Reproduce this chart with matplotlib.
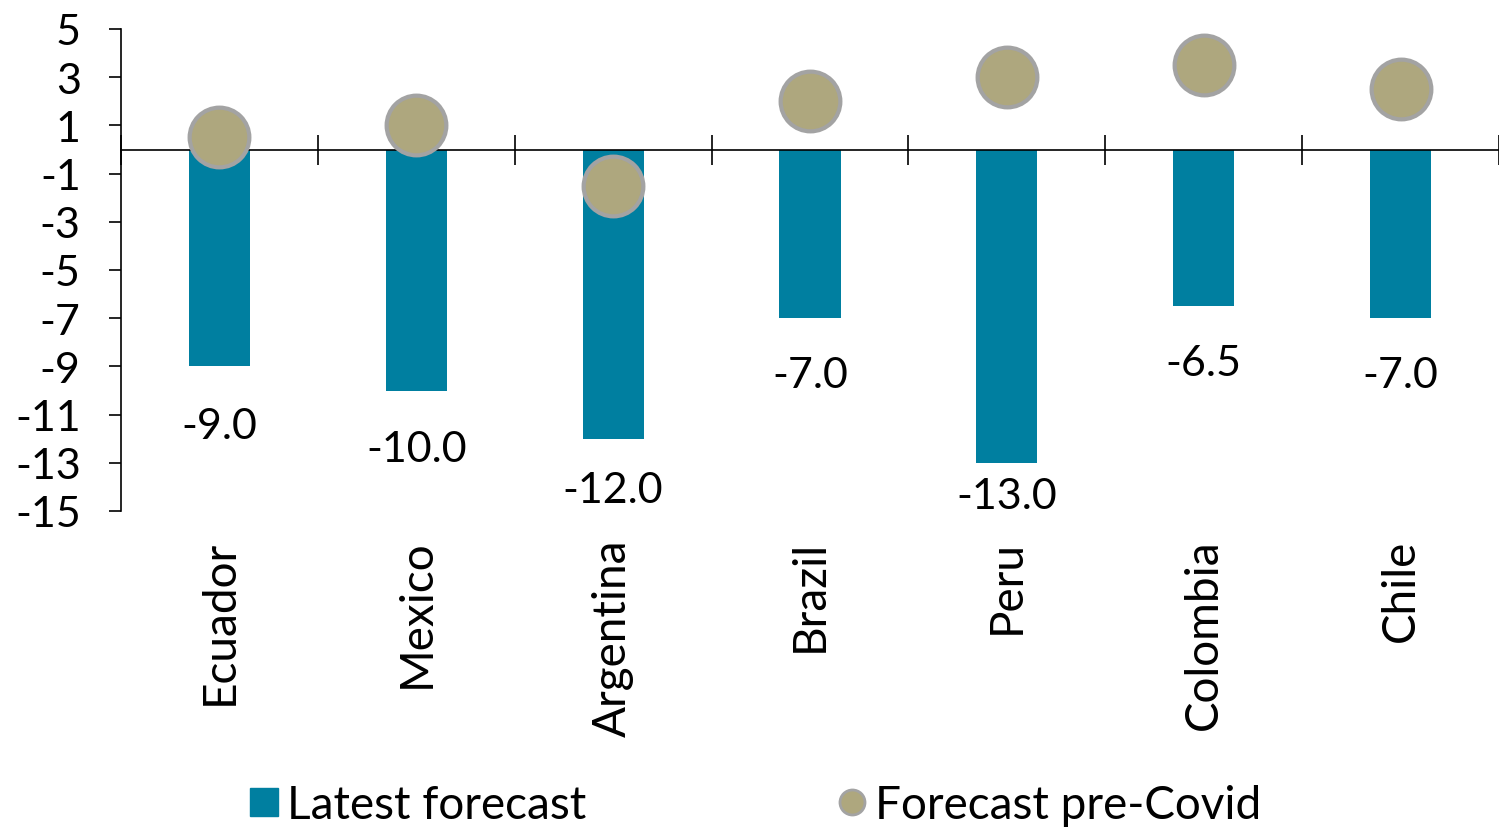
import matplotlib
matplotlib.use("Agg")
import matplotlib.pyplot as plt
from matplotlib.lines import Line2D
import numpy as np

countries = ["Ecuador", "Mexico", "Argentina", "Brazil", "Peru", "Colombia", "Chile"]
latest = [-9.0, -10.0, -12.0, -7.0, -13.0, -6.5, -7.0]
pre_covid = [0.5, 1.0, -1.5, 2.0, 3.0, 3.5, 2.5]
yticks = [5, 3, 1, -1, -3, -5, -7, -9, -11, -13, -15]

# label placement below bar ends (points), layout only
label_offsets = [-43, -42, -37, -41, -24, -41, -41]

bar_color = "#007FA0"
dot_color = "#AEA77E"
dot_edge = "#A3A3A3"

plt.rcParams['font.family'] = ['Lato', 'DejaVu Sans']

fig = plt.figure(figsize=(14.99, 8.29), dpi=100)
ax = fig.add_axes([121/1499, 1-512/829, 1-121/1499, (512-30)/829])

x = np.arange(len(countries))
ax.bar(x, latest, width=0.31, color=bar_color, zorder=2)
ax.plot(x, pre_covid, linestyle='none', marker='o', markersize=43,
        markerfacecolor=dot_color, markeredgecolor=dot_edge, markeredgewidth=3, zorder=3)

for xi, v, off in zip(x, latest, label_offsets):
    ax.annotate(f"{v:.1f}", (xi, v), xytext=(0, off), textcoords='offset points',
                ha='center', va='center', fontsize=31)

for xi, c in zip(x, countries):
    ax.annotate(c, (xi, 0), xycoords=('data', 'axes fraction'), xytext=(0, -20),
                textcoords='offset points', ha='center', va='top', rotation=90, fontsize=33)

ax.set_xlim(-0.5, len(countries) - 0.5)
ax.set_ylim(-15, 5)
ax.set_yticks(yticks)
ax.set_yticklabels([str(t) for t in yticks], fontsize=31)
ax.tick_params(axis='y', direction='out', length=9, width=1.2, pad=20)

ax.spines['bottom'].set_position(('data', 0))
ax.spines['top'].set_visible(False)
ax.spines['right'].set_visible(False)
ax.spines['left'].set_linewidth(1.2)
ax.spines['bottom'].set_linewidth(1.2)
ax.set_xticks(np.arange(len(countries) + 1) - 0.5)
ax.set_xticklabels([])
ax.tick_params(axis='x', direction='inout', length=22, width=1.2)

handles = [
    Line2D([], [], linestyle='none', marker='s', markersize=19.5, markerfacecolor=bar_color,
           markeredgecolor=bar_color),
    Line2D([], [], linestyle='none', marker='o', markersize=18, markerfacecolor=dot_color,
           markeredgecolor=dot_edge, markeredgewidth=2),
]
fig.legend(handles, ["Latest forecast", "Forecast pre-Covid"], loc='center',
           bbox_to_anchor=(756/1499, 1-806/829), ncol=2, frameon=False, fontsize=33,
           handlelength=0.6, handletextpad=0.2, columnspacing=5.5)

fig.savefig("out.png", dpi=100)
